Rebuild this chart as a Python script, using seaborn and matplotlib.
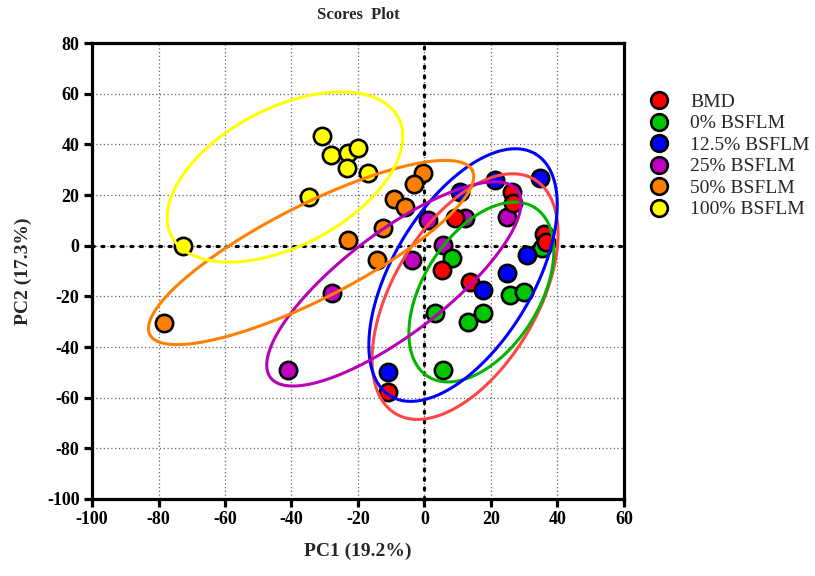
import numpy as np
import pandas as pd
import matplotlib
matplotlib.use("Agg")
import matplotlib.pyplot as plt
from matplotlib.lines import Line2D
import seaborn as sns

# ---------------- data ----------------
groups = ["BMD", "0% BSFLM", "12.5% BSFLM", "25% BSFLM", "50% BSFLM", "100% BSFLM"]
colors = ["#FF0000", "#00C800", "#0000FF", "#C000C0", "#FF8000", "#FFFF00"]
ellipse_colors = ["#FF4545", "#00B400", "#0000FF", "#B800B8", "#FF8000", "#FFFF00"]

bmd_x = [9.2, 26.2, 26.7, 35.8, 36.4, 5.2, 13.7, -10.9]
bmd_y = [10.8, 21.3, 17.0, 4.6, 1.5, -9.6, -14.2, -57.6]
p0_x = [35.2, 8.2, 3.2, 13.2, 17.7, 25.7, 29.9, 5.7]
p0_y = [-0.8, -5.0, -26.7, -30.0, -26.7, -19.5, -18.2, -49.1]
p125_x = [10.7, 21.2, 34.7, 30.7, 24.7, 17.7, -10.9]
p125_y = [21.0, 25.9, 26.6, -3.7, -10.9, -17.5, -49.7]
p25_x = [1.1, 12.2, 24.7, 5.7, -3.8, -41.0, -27.9]
p25_y = [10.1, 10.8, 11.4, 0.3, -5.6, -49.1, -18.8]
p50_x = [-0.4, -3.1, -9.1, -5.9, -12.4, -22.9, -14.4, -78.3]
p50_y = [28.6, 24.4, 18.4, 15.4, 6.9, 2.1, -5.6, -30.4]
p100_x = [-30.9, -28.1, -22.9, -20.1, -23.4, -16.9, -34.6, -72.7]
p100_y = [43.4, 35.8, 36.5, 38.5, 30.6, 28.8, 19.1, -0.1]

# ellipses: centre and two conjugate semi-axis vectors (data units)
ell_cx = [12.2, 17.1, 11.6, -9.2, -34.1, -41.95]
ell_cy = [-20.1, -18.3, -11.6, -15.1, -2.7, 27.1]
ell_ux = [20.8, 16.1, 21.8, 37.1, 48.5, 34.1]
ell_uy = [46.3, 33.3, 47.8, 37.0, 32.4, 23.4]
ell_vx = [-18.7, -14.7, -18.1, -9.3, -6.4, -9.6]
ell_vy = [14.4, 12.3, 14.2, 16.0, 16.5, 24.1]

xticks = list(range(-100, 61, 20))
yticks = list(range(-100, 81, 20))

xs = [bmd_x, p0_x, p125_x, p25_x, p50_x, p100_x]
ys = [bmd_y, p0_y, p125_y, p25_y, p50_y, p100_y]
df = pd.concat([pd.DataFrame({"PC1": x, "PC2": y, "group": g})
                for x, y, g in zip(xs, ys, groups)], ignore_index=True)

# ---------------- style ----------------
sns.set_theme(style="white")
plt.rcParams["font.family"] = ["Liberation Serif", "DejaVu Serif"]
plt.rcParams["axes.unicode_minus"] = False

fig = plt.figure(figsize=(8.15, 5.76), dpi=100)
ax = fig.add_axes([0.1129, 0.1337, 0.6527, 0.7916])

# draw order: later groups underneath
draw_order = ["100% BSFLM", "50% BSFLM", "25% BSFLM", "0% BSFLM", "BMD", "12.5% BSFLM"]
pal = dict(zip(groups, colors))
for g in draw_order:
    sns.scatterplot(data=df[df.group == g], x="PC1", y="PC2", color=pal[g],
                    s=155, edgecolor="black", linewidth=1.9, ax=ax,
                    legend=False, zorder=3)

t = np.linspace(0, 2 * np.pi, 400)
for i in range(len(groups)):
    ex = ell_cx[i] + np.cos(t) * ell_ux[i] + np.sin(t) * ell_vx[i]
    ey = ell_cy[i] + np.cos(t) * ell_uy[i] + np.sin(t) * ell_vy[i]
    ax.plot(ex, ey, color=ellipse_colors[i], lw=2.2, zorder=4)

ax.set_xlim(-100, 60)
ax.set_ylim(-100, 80)
ax.set_xticks(xticks)
ax.set_yticks(yticks)

# grid
for xv in xticks[1:-1]:
    ax.axvline(xv, color="#666666", lw=0.9, ls=(0, (1, 2)), zorder=1)
for yv in yticks[1:-1]:
    ax.axhline(yv, color="#666666", lw=0.9, ls=(0, (1, 2)), zorder=1)
ax.axvline(0, color="black", lw=2.3, ls=(0, (0.6, 2.4)), dash_capstyle="round", zorder=2)
ax.axhline(0, color="black", lw=2.3, ls=(0, (0.6, 2.4)), dash_capstyle="round", zorder=2)

for sp in ax.spines.values():
    sp.set_visible(True)
    sp.set_color("black")
    sp.set_linewidth(2.3)

ax.tick_params(axis="both", direction="out", length=6, width=2.3, colors="black",
               labelsize=13, pad=3, bottom=True, left=True)
for lab in ax.get_xticklabels() + ax.get_yticklabels():
    lab.set_fontweight("bold")

ax.set_xlabel("PC1 (19.2%)", fontsize=14, fontweight="bold", labelpad=10)
ax.set_ylabel("PC2 (17.3%)", fontsize=14, fontweight="bold", labelpad=11)
ax.set_title("Scores  Plot", fontsize=12, fontweight="bold", pad=17)

handles = [Line2D([0], [0], marker="o", ls="none", markersize=12,
                  markerfacecolor=c, markeredgecolor="black", markeredgewidth=1.9)
           for c in colors]
fig.legend(handles, groups, loc="upper left", bbox_to_anchor=(0.785, 0.838),
           frameon=False, fontsize=14, handletextpad=0.6, labelspacing=0.2,
           borderaxespad=0, borderpad=0)

fig.savefig("out.png", dpi=100)
